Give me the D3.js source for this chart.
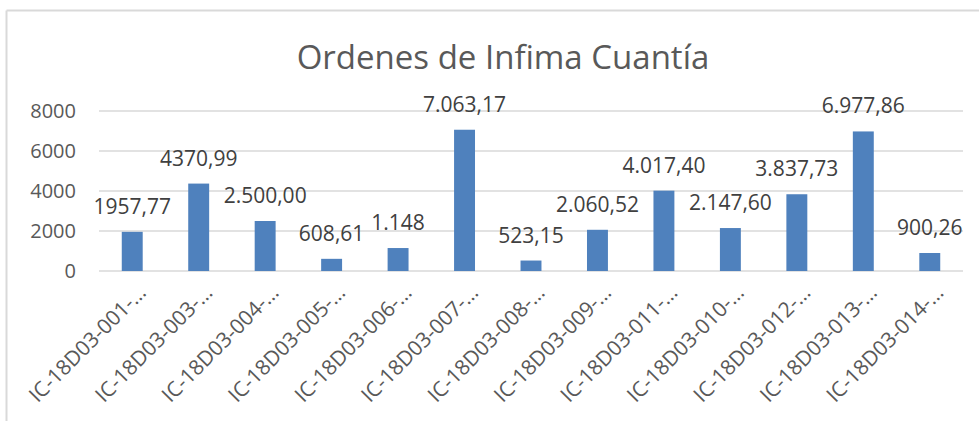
<!DOCTYPE html>
<html>
<head>
<meta charset="utf-8">
<script src="https://cdn.jsdelivr.net/npm/d3@7"></script>
<style>
  body { margin: 0; background: #fff; }
  svg { display: block; font-family: "Open Sans", sans-serif; }
</style>
</head>
<body>
<svg id="chart"></svg>
<script>
const categories = [
    "IC-18D03-001-…", "IC-18D03-003-…", "IC-18D03-004-…", "IC-18D03-005-…",
    "IC-18D03-006-…", "IC-18D03-007-…", "IC-18D03-008-…", "IC-18D03-009-…",
    "IC-18D03-011-…", "IC-18D03-010-…", "IC-18D03-012-…", "IC-18D03-013-…",
    "IC-18D03-014-…"
];
const values = [1957.77, 4370.99, 2500.00, 608.61, 1148, 7063.17, 523.15, 2060.52, 4017.40, 2147.60, 3837.73, 6977.86, 900.26];
const valueLabels = ["1957,77", "4370,99", "2.500,00", "608,61", "1.148", "7.063,17", "523,15", "2.060,52", "4.017,40", "2.147,60", "3.837,73", "6.977,86", "900,26"];
const yTicks = [0, 2000, 4000, 6000, 8000];
const title = "Ordenes de Infima Cuantía";

const W = 979, H = 421;
const margin = { top: 111, right: 16, bottom: 150, left: 99 };
const width = W - margin.left - margin.right;
const height = H - margin.top - margin.bottom;

const svg = d3.select("#chart")
    .attr("width", W)
    .attr("height", H);

// chart border (only top and left are visible in the crop)
svg.append("line")
    .attr("x1", 6.5).attr("x2", W).attr("y1", 10.5).attr("y2", 10.5)
    .attr("stroke", "#d9d9d9").attr("stroke-width", 2);
svg.append("line")
    .attr("x1", 6.5).attr("x2", 6.5).attr("y1", 10.5).attr("y2", H)
    .attr("stroke", "#d9d9d9").attr("stroke-width", 2);

svg.append("text")
    .attr("x", 503)
    .attr("y", 69)
    .attr("text-anchor", "middle")
    .style("font-size", "33px")
    .style("fill", "#595959")
    .text(title);

const g = svg.append("g")
    .attr("transform", `translate(${margin.left},${margin.top})`);

const x = d3.scaleBand()
    .domain(categories)
    .range([0, width])
    .paddingInner(0.685)
    .paddingOuter(0.3425);

const y = d3.scaleLinear()
    .domain([0, 8000])
    .range([height, 0]);

// gridlines
g.append("g")
    .selectAll("line")
    .data(yTicks)
    .join("line")
    .attr("x1", 0)
    .attr("x2", width)
    .attr("y1", d => y(d))
    .attr("y2", d => y(d))
    .attr("stroke", "#d9d9d9")
    .attr("stroke-width", 1.5);

const yAxis = d3.axisLeft(y).tickValues(yTicks).tickFormat(d3.format("d")).tickSize(0).tickPadding(23);
g.append("g")
    .call(yAxis)
    .call(s => s.select(".domain").remove())
    .selectAll("text")
    .attr("font-family", "Open Sans, sans-serif")
    .style("font-size", "20px")
    .style("fill", "#595959");

g.selectAll(".bar")
    .data(values)
    .join("rect")
    .attr("class", "bar")
    .attr("x", (d, i) => x(categories[i]))
    .attr("y", d => y(d))
    .attr("width", x.bandwidth())
    .attr("height", d => height - y(d))
    .attr("fill", "#4f81bd");

g.selectAll(".lbl")
    .data(values)
    .join("text")
    .attr("class", "lbl")
    .attr("x", (d, i) => x(categories[i]) + x.bandwidth() / 2)
    .attr("y", d => y(d) - 18)
    .attr("text-anchor", "middle")
    .style("font-size", "21px")
    .style("fill", "#404040")
    .text((d, i) => valueLabels[i]);

const xAxis = d3.axisBottom(x).tickSize(0).tickPadding(0);
g.append("g")
    .attr("transform", `translate(0,${height})`)
    .call(xAxis)
    .call(s => s.select(".domain").remove())
    .selectAll("text")
    .attr("font-family", "Open Sans, sans-serif")
    .style("font-size", "21px")
    .style("fill", "#595959")
    .style("text-anchor", "end")
    .attr("dy", null)
    .attr("y", 0)
    .attr("transform", "translate(15,23) rotate(-45)");
</script>
</body>
</html>
